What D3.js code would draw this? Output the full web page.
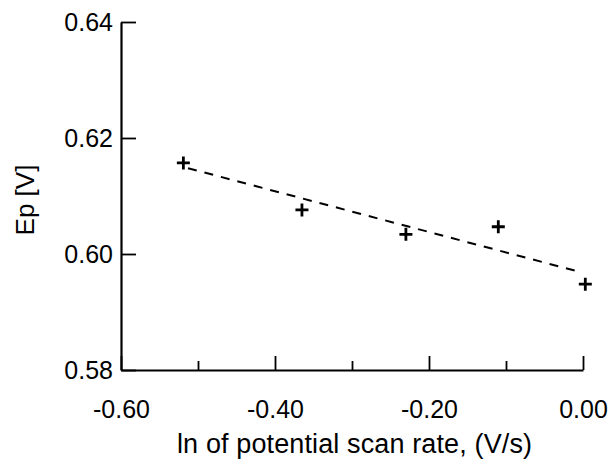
<!DOCTYPE html>
<html>
<head>
<meta charset="utf-8">
<script src="https://cdn.jsdelivr.net/npm/d3@7"></script>
<style>
  body { margin: 0; background: #fff; }
  text { font-family: "Liberation Sans", Arial, sans-serif; }
</style>
</head>
<body>
<div id="chart"></div>
<script>
// data
var scanRate = [-0.519, -0.365, -0.230, -0.110, 0.003];
var peakPotential = [0.6157, 0.6076, 0.6034, 0.6047, 0.5948];
// dashed fit line, end points
var fitX = [-0.513, -0.004];
var fitY = [0.6148, 0.5969];
var xMajor = [-0.60, -0.40, -0.20, 0.00];
var xMinor = [-0.50, -0.30, -0.10];
var yMajor = [0.58, 0.60, 0.62, 0.64];

var width = 613, height = 461;

var svg = d3.select("#chart").append("svg")
  .attr("width", width)
  .attr("height", height);

var x = d3.scaleLinear().domain([-0.6, 0]).range([121, 583]);
var y = d3.scaleLinear().domain([0.58, 0.64]).range([370, 22]);

// plain hyphen instead of the unicode minus
var fmt = function(d) { return d3.format(".2f")(d).replace("\u2212", "-"); };

// y axis, ticks pointing in
svg.append("g")
  .attr("transform", "translate(" + x(-0.6) + ",0)")
  .call(d3.axisLeft(y).tickValues(yMajor).tickFormat(fmt)
    .tickSizeInner(-15).tickSizeOuter(0).tickPadding(8));

// x axis, major ticks with labels
svg.append("g")
  .attr("transform", "translate(0," + y(0.58) + ")")
  .call(d3.axisBottom(x).tickValues(xMajor).tickFormat(fmt)
    .tickSizeInner(-14).tickSizeOuter(0).tickPadding(30));

// minor ticks
svg.append("g")
  .attr("transform", "translate(0," + y(0.58) + ")")
  .call(d3.axisBottom(x).tickValues(xMinor).tickFormat("")
    .tickSizeInner(-9).tickSizeOuter(0))
  .select(".domain").remove();

svg.selectAll(".domain").attr("stroke-width", 2.2);
svg.selectAll(".tick line").attr("stroke-width", 1.8);
svg.selectAll(".tick text")
  .attr("font-size", 25)
  .attr("fill", "#000");

// dashed fit
var fit = fitX.map(function(d, i) { return [d, fitY[i]]; });
svg.append("path")
  .datum(fit)
  .attr("fill", "none")
  .attr("stroke", "#000")
  .attr("stroke-width", 2)
  .attr("stroke-dasharray", "9,8")
  .attr("d", d3.line()
    .x(function(d) { return x(d[0]); })
    .y(function(d) { return y(d[1]); }));

// plus markers
var pts = scanRate.map(function(d, i) { return [d, peakPotential[i]]; });
svg.append("g")
  .selectAll("path")
  .data(pts)
  .enter().append("path")
    .attr("transform", function(d) { return "translate(" + x(d[0]) + "," + y(d[1]) + ")"; })
    .attr("d", "M-6.5,0H6.5M0,-6.5V6.5")
    .attr("stroke", "#000")
    .attr("stroke-width", 2.8);

// axis titles
svg.append("text")
  .attr("x", 177)
  .attr("y", 453)
  .attr("font-size", 27)
  .attr("textLength", 355)
  .text("ln of potential scan rate, (V/s)");

svg.append("text")
  .attr("transform", "translate(34,200) rotate(-90)")
  .attr("text-anchor", "middle")
  .attr("font-size", 26)
  .text("Ep [V]");
</script>
</body>
</html>
